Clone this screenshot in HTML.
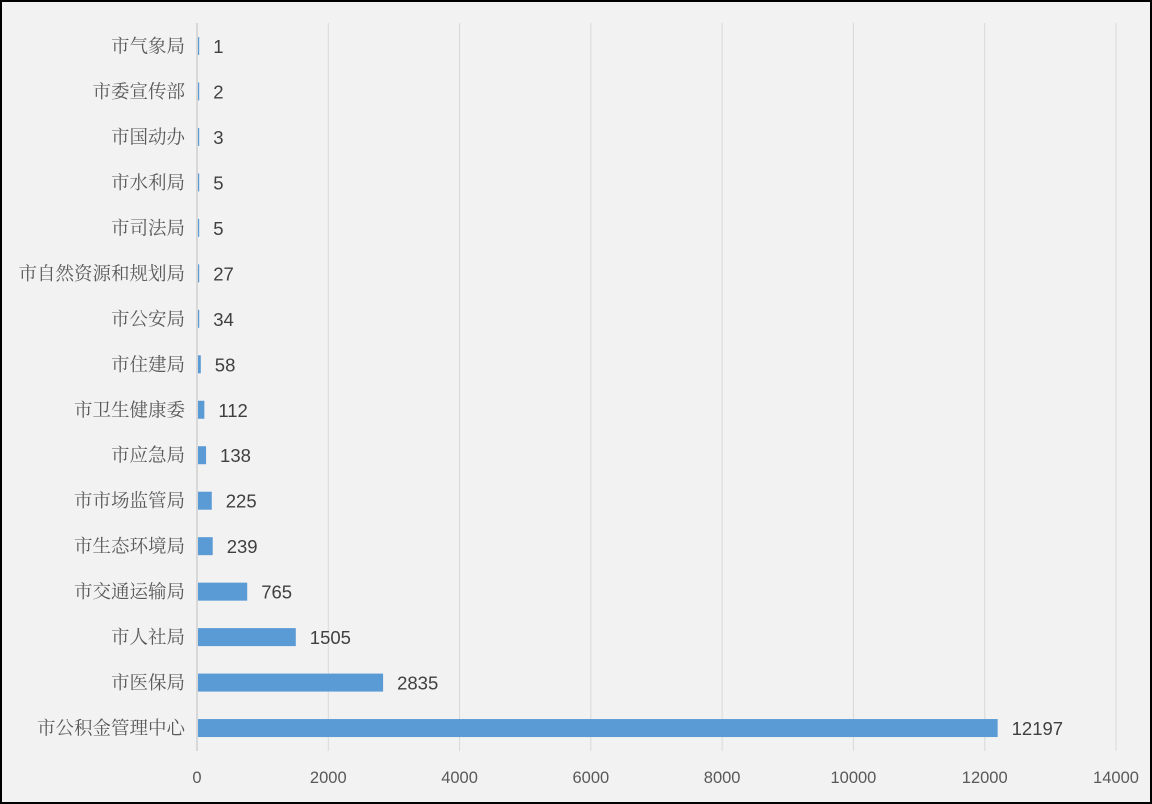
<!DOCTYPE html>
<html><head><meta charset="utf-8"><style>
html,body{margin:0;padding:0;background:#f2f2f2;}
#wrap{position:relative;width:1152px;height:804px;box-sizing:border-box;border:2px solid #000;background:#f2f2f2;overflow:hidden;}
svg{position:absolute;left:-2px;top:-2px;}
</style></head><body>
<div id="wrap">
<svg id="chart" width="1152" height="804"></svg>
</div>
<script>
const categories=["市气象局","市委宣传部","市国动办","市水利局","市司法局","市自然资源和规划局","市公安局","市住建局","市卫生健康委","市应急局","市市场监管局","市生态环境局","市交通运输局","市人社局","市医保局","市公积金管理中心"];
const values=[1,2,3,5,5,27,34,58,112,138,225,239,765,1505,2835,12197];
const ticks=[0,2000,4000,6000,8000,10000,12000,14000];
const NS="http://www.w3.org/2000/svg";
const svg=document.getElementById('chart');
const x0=197,x1=1116,xmax=14000;
const yTop=46,yStep=45.47;
function xs(v){return x0+(x1-x0)*v/xmax;}
function ys(i){return yTop+i*yStep;}
function mk(t,a){const e=document.createElementNS(NS,t);for(const k in a)e.setAttribute(k,a[k]);svg.appendChild(e);return e;}
ticks.forEach((t,i)=>{
  if(i>0){const g=mk('line',{x1:xs(t),x2:xs(t),y1:23,y2:751,stroke:'#d9d9d9','stroke-width':1});
  
  }
  const l=mk('text',{x:xs(t),y:783,'text-anchor':'middle','font-size':16.5,fill:'#595959','font-family':'Liberation Sans, sans-serif'});
  l.textContent=t;
  
  
});
const ax=mk('line',{x1:x0,x2:x0,y1:23,y2:751,stroke:'#d0d0d0','stroke-width':1.5});


categories.forEach((c,i)=>{
  const y=ys(i);
  const w=Math.max(1.2,xs(values[i])-x0-1);
  const b=mk('rect',{x:x0+1,y:y-9,width:w,height:18,fill:'#5b9bd5'});
  
  
  const cl=mk('text',{x:185,y:y+6.5,'text-anchor':'end','font-size':18.5,fill:'#595959','font-family':'Liberation Serif, Noto Serif CJK SC, AR PL UMing CN, WenQuanYi Zen Hei, serif'});
  cl.textContent=c;
  
  
  const vl=mk('text',{x:x0+1+w+14,y:y+7,'font-size':18.5,fill:'#404040','font-family':'Liberation Sans, sans-serif'});
  vl.textContent=values[i];
  
  
});
</script>
</body></html>
